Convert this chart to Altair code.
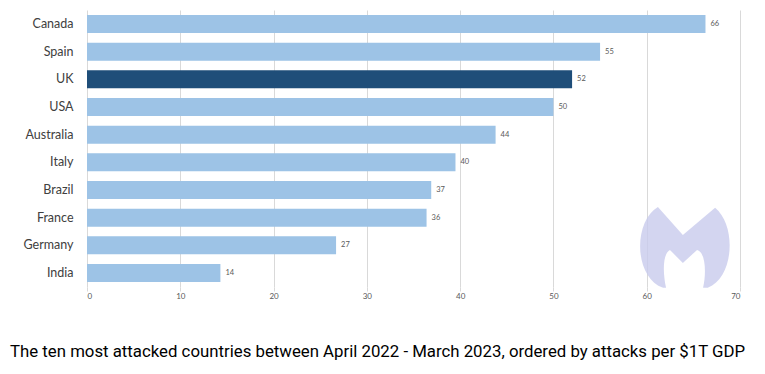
import altair as alt
import pandas as pd

countries = ["Canada", "Spain", "UK", "USA", "Australia", "Italy", "Brazil", "France", "Germany", "India"]
attacks = [66.3, 55.0, 52.0, 50.0, 43.8, 39.5, 36.9, 36.4, 26.7, 14.3]
labels = ["66", "55", "52", "50", "44", "40", "37", "36", "27", "14"]
highlight = ["no", "no", "yes", "no", "no", "no", "no", "no", "no", "no"]
x_ticks = [0, 10, 20, 30, 40, 50, 60, 70]
caption = ["The ten most attacked countries between April 2022 - March 2023, ordered by attacks per $1T GDP"]

df = pd.DataFrame({"country": countries, "value": attacks, "label": labels, "hl": highlight})

W, H = 653, 277

y = alt.Y("country:N", sort=countries, title=None,
          scale=alt.Scale(paddingInner=0.35, paddingOuter=0.18),
          axis=alt.Axis(domain=False, ticks=False, labelFont="Lato", labelFontSize=12.5,
                        labelColor="#404040", labelPadding=14))
x = alt.X("value:Q", title=None, scale=alt.Scale(domain=[0, 70], nice=False),
          axis=alt.Axis(values=x_ticks, domain=False, tickColor="#d9d9d9", tickSize=4,
                        gridColor="#d9d9d9", labelFont="Lato", labelFontSize=8,
                        labelColor="#595959", labelPadding=1))

bars = alt.Chart(df).mark_bar().encode(
    x=x, y=y,
    color=alt.Color("hl:N", scale=alt.Scale(domain=["no", "yes"], range=["#9dc3e6", "#1f4e79"]), legend=None),
)

text = alt.Chart(df).mark_text(align="left", dx=5, font="Lato", fontSize=7.5, color="#595959").encode(
    x="value:Q", y=alt.Y("country:N", sort=countries), text="label:N"
)

logo_path = ("M -0.63 -0.93 L -0.05 -0.28 L 0.70 -0.91 C 1.2 -0.5 1.15 0.7 0.53 0.95 "
             "L 0.42 0.95 C 0.5 0.6 0.48 0.12 0.28 0.07 L -0.05 0.37 L -0.35 0.07 "
             "C -0.52 0.15 -0.52 0.6 -0.44 0.95 L -0.51 0.95 C -1.2 0.7 -1.2 -0.6 -0.63 -0.93 Z")
logo = alt.Chart(pd.DataFrame({"k": [1]})).mark_point(
    shape=logo_path, filled=True, color="#c8cbec", opacity=0.8, size=7396, strokeWidth=0
).encode(x=alt.value(598), y=alt.value(237))

cap = alt.Chart(pd.DataFrame({"t": caption})).mark_text(
    align="left", baseline="middle", font="Roboto", fontSize=16.8, color="#000000"
).encode(x=alt.value(-77), y=alt.value(342), text="t:N")

chart = alt.layer(bars, text, logo, cap).properties(
    width=W, height=H,
    autosize=alt.AutoSizeParams(type="none"),
    padding={"left": 79, "top": 2, "right": 10, "bottom": 79},
).configure_view(stroke=None)

chart.save("out.html", embed_options={"renderer": "svg", "actions": False})
